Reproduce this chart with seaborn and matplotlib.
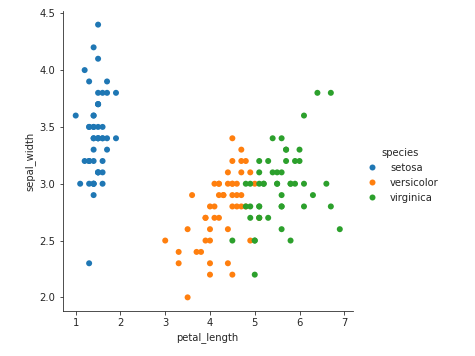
import matplotlib
matplotlib.use("Agg")
import matplotlib.pyplot as plt
import seaborn as sns
import pandas as pd

species_names = ["setosa", "versicolor", "virginica"]

setosa_petal_length = [1.4,1.4,1.3,1.5,1.4,1.7,1.4,1.5,1.4,1.5,1.5,1.6,1.4,1.1,1.2,1.5,1.3,1.4,1.7,1.5,
                       1.7,1.5,1.0,1.7,1.9,1.6,1.6,1.5,1.4,1.6,1.6,1.5,1.5,1.4,1.5,1.2,1.3,1.4,1.3,1.5,
                       1.3,1.3,1.3,1.6,1.9,1.4,1.6,1.4,1.5,1.4]
setosa_sepal_width = [3.5,3.0,3.2,3.1,3.6,3.9,3.4,3.4,2.9,3.1,3.7,3.4,3.0,3.0,4.0,4.4,3.9,3.5,3.8,3.8,
                      3.4,3.7,3.6,3.3,3.4,3.0,3.4,3.5,3.4,3.2,3.1,3.4,4.1,4.2,3.1,3.2,3.5,3.6,3.0,3.4,
                      3.5,2.3,3.2,3.5,3.8,3.0,3.8,3.2,3.7,3.3]

versicolor_petal_length = [4.7,4.5,4.9,4.0,4.6,4.5,4.7,3.3,4.6,3.9,3.5,4.2,4.0,4.7,3.6,4.4,4.5,4.1,4.5,3.9,
                           4.8,4.0,4.9,4.7,4.3,4.4,4.8,5.0,4.5,3.5,3.8,3.7,3.9,5.1,4.5,4.5,4.7,4.4,4.1,4.0,
                           4.4,4.6,4.0,3.3,4.2,4.2,4.2,4.3,3.0,4.1]
versicolor_sepal_width = [3.2,3.2,3.1,2.3,2.8,2.8,3.3,2.4,2.9,2.7,2.0,3.0,2.2,2.9,2.9,3.1,3.0,2.7,2.2,2.5,
                          3.2,2.8,2.5,2.8,2.9,3.0,2.8,3.0,2.9,2.6,2.4,2.4,2.7,2.7,3.0,3.4,3.1,2.3,3.0,2.5,
                          2.6,3.0,2.6,2.3,2.7,3.0,2.9,2.9,2.5,2.8]

virginica_petal_length = [6.0,5.1,5.9,5.6,5.8,6.6,4.5,6.3,5.8,6.1,5.1,5.3,5.5,5.0,5.1,5.3,5.5,6.7,6.9,5.0,
                          5.7,4.9,6.7,4.9,5.7,6.0,4.8,4.9,5.6,5.8,6.1,6.4,5.6,5.1,5.6,6.1,5.6,5.5,4.8,5.4,
                          5.6,5.1,5.1,5.9,5.7,5.2,5.0,5.2,5.4,5.1]
virginica_sepal_width = [3.3,2.7,3.0,2.9,3.0,3.0,2.5,2.9,2.5,3.6,3.2,2.7,3.0,2.5,2.8,3.2,3.0,3.8,2.6,2.2,
                         3.2,2.8,2.8,2.7,3.3,3.2,2.8,3.0,2.8,3.0,2.8,3.8,2.8,2.8,2.6,3.0,3.4,3.1,3.0,3.1,
                         3.1,3.1,2.7,3.2,3.3,3.0,2.5,3.0,3.4,3.0]

df = pd.concat([
    pd.DataFrame({"petal_length": setosa_petal_length, "sepal_width": setosa_sepal_width, "species": "setosa"}),
    pd.DataFrame({"petal_length": versicolor_petal_length, "sepal_width": versicolor_sepal_width, "species": "versicolor"}),
    pd.DataFrame({"petal_length": virginica_petal_length, "sepal_width": virginica_sepal_width, "species": "virginica"}),
], ignore_index=True)

sns.set_style("ticks")
plt.rcParams["font.family"] = ["DejaVu Sans"]

W, H = 475, 356
fig = plt.figure(figsize=(W / 72, H / 72), dpi=72)
ax = fig.add_axes([62.5 / W, 45 / H, 290.5 / W, 300 / H])

sns.scatterplot(data=df, x="petal_length", y="sepal_width", hue="species",
                hue_order=species_names, palette="tab10", s=36, linewidth=0,
                ax=ax, legend=True)
sns.despine(ax=ax)

ax.set_xticks([1, 2, 3, 4, 5, 6, 7])
ax.set_yticks([2.0, 2.5, 3.0, 3.5, 4.0, 4.5])

handles, labels = ax.get_legend_handles_labels()
ax.get_legend().remove()
fig.legend(handles, labels, title="species", loc="center left",
           bbox_to_anchor=(353 / W, 0.508), frameon=False,
           handlelength=2.0, handletextpad=0.8, fontsize=10, title_fontsize=10)

fig.savefig("out.png", dpi=72)
